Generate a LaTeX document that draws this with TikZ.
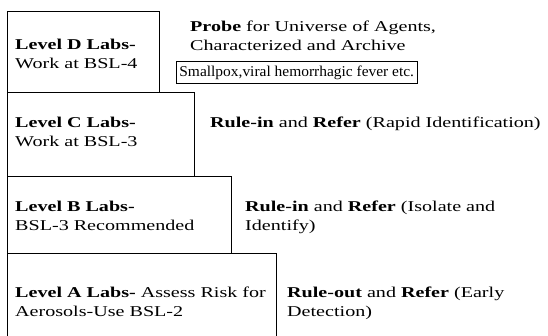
\documentclass[tikz,border=0pt]{standalone}
\usepackage{fontspec}
\setmainfont{Liberation Serif}[FakeStretch=1.34]
\newfontfamily\tagfont{Liberation Serif}[FakeStretch=1.03]
\begin{document}
\begin{tikzpicture}[x=1pt,y=-1pt,
  labbox/.style={draw, line width=0.8pt},
  txt/.style={anchor=base west, inner sep=0pt, font=\fontsize{15}{19}\selectfont},
  tagbox/.style={draw, line width=0.8pt, anchor=base west, inner xsep=3pt, inner ysep=4.5pt, font=\tagfont\fontsize{15}{19}\selectfont}]
\useasboundingbox (0,0) rectangle (548,335);
% staircase of lab boxes
\draw[labbox] (7,11) rectangle (159,92);
\draw[labbox] (7,92) rectangle (194,176);
\draw[labbox] (7,176) rectangle (231,253);
\draw[labbox] (7,253) -- (276,253) -- (276,336);
\draw[labbox] (7,253) -- (7,336);
% Level D
\node[txt] (d1) at (15,49) {\textbf{Level D Labs-}};
\node[txt] (d2) at (15,68) {Work at BSL-4};
\node[txt] (dr1) at (190,31) {\textbf{Probe} for Universe of Agents,};
\node[txt] (dr2) at (190,50) {Characterized and Archive};
\node[tagbox] (dr3) at (176,76) {Smallpox,viral hemorrhagic fever etc.};
% Level C
\node[txt] (c1) at (15,127) {\textbf{Level C Labs-}};
\node[txt] (c2) at (15,146) {Work at BSL-3};
\node[txt] (cr1) at (210,127) {\textbf{Rule-in} and \textbf{Refer} (Rapid Identification)};
% Level B
\node[txt] (b1) at (15,211) {\textbf{Level B Labs-}};
\node[txt] (b2) at (15,230) {BSL-3 Recommended};
\node[txt] (br1) at (245,211) {\textbf{Rule-in} and \textbf{Refer} (Isolate and};
\node[txt] (br2) at (245,230) {Identify)};
% Level A
\node[txt] (a1) at (15,297) {\textbf{Level A Labs-} Assess Risk for};
\node[txt] (a2) at (15,316) {Aerosols-Use BSL-2};
\node[txt] (ar1) at (287,297) {\textbf{Rule-out} and \textbf{Refer} (Early};
\node[txt] (ar2) at (287,316) {Detection)};
\end{tikzpicture}
\end{document}
